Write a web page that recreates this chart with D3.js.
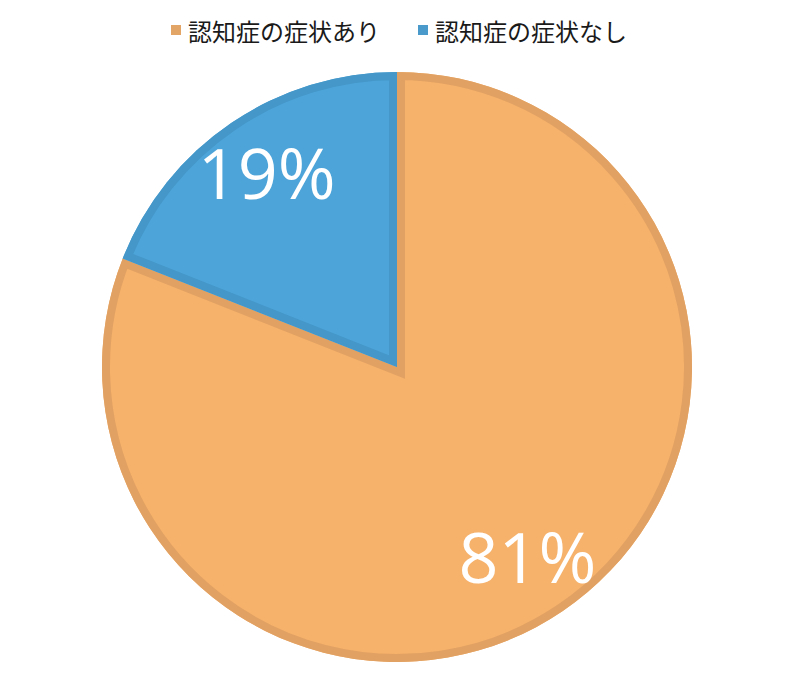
<!DOCTYPE html>
<html><head><meta charset="utf-8">
<script src="https://cdn.jsdelivr.net/npm/d3@7"></script>
<style>body{margin:0;background:#fff}</style>
</head><body>
<svg id="c" width="794" height="686"></svg>
<script>
const categories = ["認知症の症状あり", "認知症の症状なし"];
const values = [81, 19];
const labels = ["81%", "19%"];
const fills = ["#F6B16A", "#4DA4D9"];
const strokes = ["#E0A163", "#4497C8"];
const legendColors = ["#E3A566", "#4A9BCC"];

const svg = d3.select("#c");
const cx = 397, cy = 367, r = 295;
const pie = d3.pie().sort(null).value(d => d);
const arcs = pie(values);
const arc = d3.arc().innerRadius(0).outerRadius(r);
const labelArc = d3.arc().innerRadius(232).outerRadius(232);

const defs = svg.append("defs");
arcs.forEach((a, i) => {
  defs.append("clipPath").attr("id", "clip" + i)
    .append("path").attr("d", arc(a));
});
const g = svg.append("g").attr("transform", `translate(${cx},${cy})`);
const sl = g.selectAll("g.s").data(arcs).enter().append("g").attr("class", "s");
sl.append("path").attr("d", arc).attr("fill", (d, i) => fills[i]);
sl.append("path").attr("d", arc).attr("fill", "none")
  .attr("stroke", (d, i) => strokes[i]).attr("stroke-width", 16)
  .attr("stroke-linejoin", "miter").attr("stroke-miterlimit", 10)
  .attr("clip-path", (d, i) => `url(#clip${i})`);

g.selectAll("text.l").data(arcs).enter().append("text")
  .attr("class", "l")
  .attr("transform", d => `translate(${labelArc.centroid(d)})`)
  .attr("text-anchor", "middle").attr("dominant-baseline", "central")
  .attr("dy", -3)
  .attr("fill", "#fff")
  .style("font-family", "'Open Sans', 'Noto Sans', sans-serif")
  .style("font-size", "70px").style("font-weight", 500)
  .text((d, i) => labels[i]);

// legend
const legendX = [171, 418];
const lg = svg.append("g");
categories.forEach((c, i) => {
  lg.append("rect").attr("x", legendX[i]).attr("y", 25).attr("width", 10).attr("height", 10)
    .attr("fill", legendColors[i]);
  lg.append("text").attr("x", legendX[i] + 17).attr("y", 30)
    .attr("dominant-baseline", "central")
    .style("font-family", "'Noto Sans CJK JP', sans-serif")
    .style("font-size", "24px").attr("fill", "#1a1a1a")
    .text(c);
});
</script>
</body></html>
